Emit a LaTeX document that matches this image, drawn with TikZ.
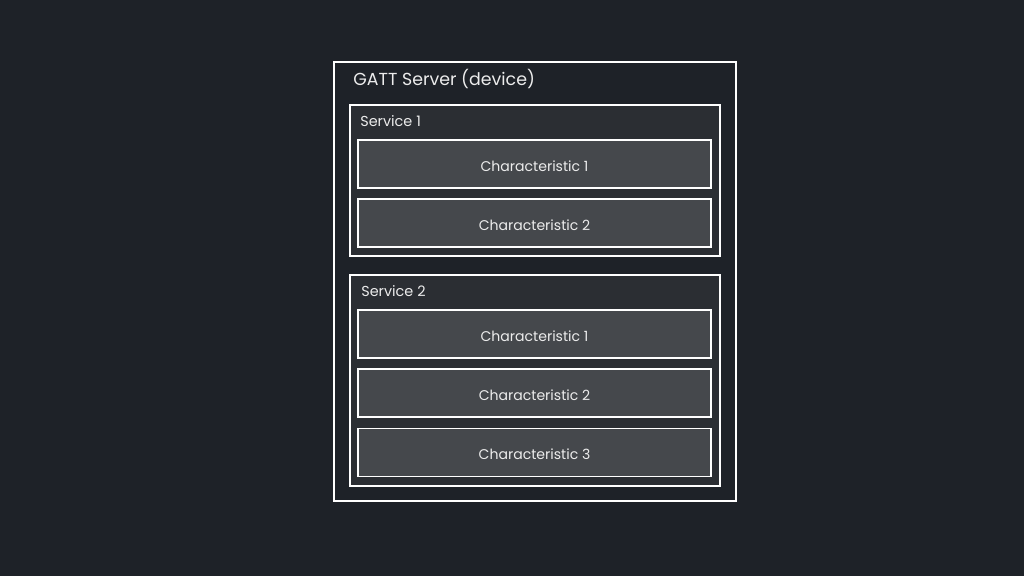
\documentclass[tikz,border=0pt]{standalone}
\usepackage{fontspec}
\setmainfont{Poppins}
\usepackage{tikz}
\usetikzlibrary{calc}
\definecolor{bgdark}{HTML}{1E2228}
\definecolor{svcfill}{HTML}{2B2E33}
\definecolor{chrfill}{HTML}{45484C}
\definecolor{txtlight}{HTML}{ECECEC}
\tikzset{
	chr/.style={draw=white,line width=1.1pt,fill=chrfill,minimum width=7.06cm,minimum height=0.96cm,text=txtlight,text depth=0pt,font=\fontsize{8}{10}\selectfont},
	chrtxt/.style={text=txtlight,font=\fontsize{8}{10}\selectfont},
	svc/.style={draw=white,line width=1.1pt,fill=svcfill,minimum width=7.4cm},
	lbl/.style={anchor=west,text=txtlight,inner sep=0pt}
}

\begin{document}
\begin{tikzpicture}[x=0.02cm,y=-0.02cm]
	\fill[bgdark] (0,0) rectangle (1024,576);
	\useasboundingbox (0,0) rectangle (1024,576);
	% server box
	\node[draw=white,line width=1.1pt,fill=bgdark,minimum width=8.04cm,minimum height=8.78cm] (srv) at (535,281.5) {};
	\node[lbl,font=\fontsize{9.9}{12}\selectfont] (srvlbl) at (353,79) {GATT Server (device)};
	% service 1
	\node[svc,minimum height=3.02cm] (svc1) at (535,180.5) {};
	\node[lbl,font=\fontsize{8.2}{10}\selectfont] (svc1lbl) at (360,121) {Service 1};
	\node[chr,label={[chrtxt,yshift=-1.1pt]center:Characteristic 1}] (chr11) at (534.5,164) {};
	\node[chr,label={[chrtxt,yshift=-1.1pt]center:Characteristic 2}] (chr12) at (534.5,223) {};
	% service 2
	\node[svc,minimum height=4.22cm] (svc2) at (535,380.5) {};
	\node[lbl,font=\fontsize{8.2}{10}\selectfont] (svc2lbl) at (361,291) {Service 2};
	\node[chr,label={[chrtxt,yshift=-1.1pt]center:Characteristic 1}] (chr21) at (534.5,334) {};
	\node[chr,label={[chrtxt,yshift=-1.1pt]center:Characteristic 2}] (chr22) at (534.5,393) {};
	\node[chr,label={[chrtxt,yshift=-1.1pt]center:Characteristic 3}] (chr23) at (534.5,452.5) {};
\end{tikzpicture}
\end{document}
